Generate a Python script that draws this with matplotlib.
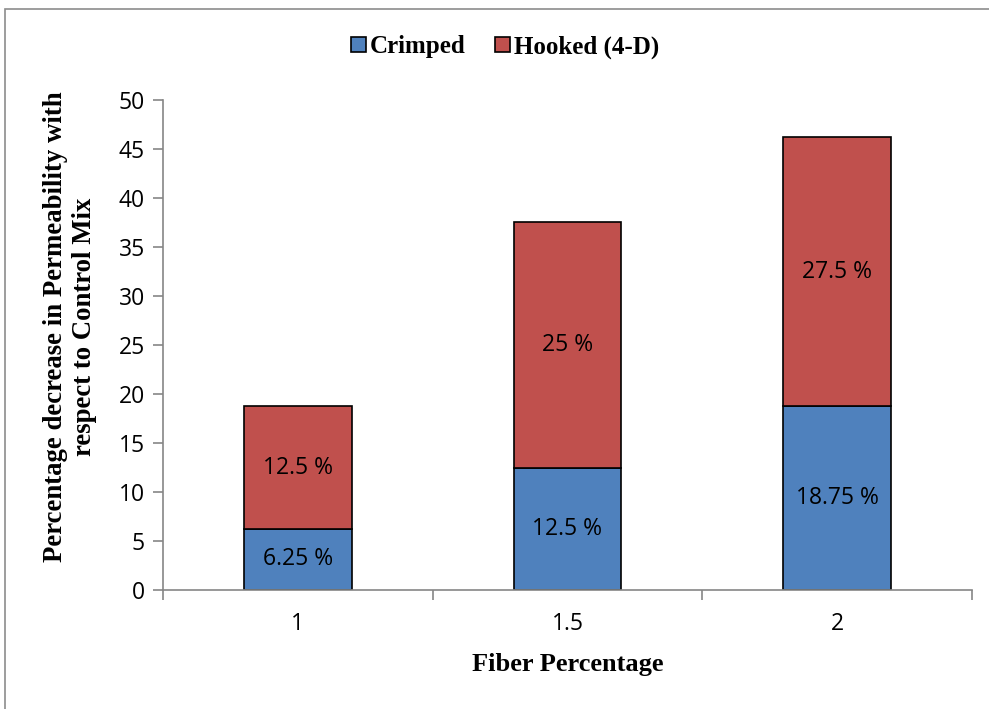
import matplotlib.pyplot as plt
from matplotlib.patches import Rectangle
import numpy as np

categories = ["1", "1.5", "2"]
crimped = [6.25, 12.5, 18.75]
hooked = [12.5, 25, 27.5]
crimped_labels = ["6.25 %", "12.5 %", "18.75 %"]
hooked_labels = ["12.5 %", "25 %", "27.5 %"]

blue = "#4F81BD"
red = "#C0504D"
axis_gray = "#868686"
serif = "Liberation Serif"
sans = "Open Sans"

fig = plt.figure(figsize=(9.89, 7.09), dpi=100)
ax = fig.add_axes([163 / 989, 1 - 590 / 709, (972 - 163) / 989, 490 / 709])

# outer chart frame, partly cut off on the right and bottom
fig.patches.append(Rectangle((5 / 989, -0.05), 1.1, 1 - 9 / 709 + 0.05,
                             transform=fig.transFigure, fill=False,
                             edgecolor="#8c8c8c", linewidth=1.2))

x = np.arange(len(categories))
w = 0.4
b1 = ax.bar(x, crimped, w, color=blue, edgecolor="black", linewidth=1.2,
            label="Crimped")
b2 = ax.bar(x, hooked, w, bottom=crimped, color=red, edgecolor="black",
            linewidth=1.2, label="Hooked (4-D)")

for i in range(len(x)):
    ax.text(x[i], crimped[i] / 2, crimped_labels[i], ha="center", va="center",
            fontsize=16.5, family=sans)
    ax.text(x[i], crimped[i] + hooked[i] / 2, hooked_labels[i], ha="center",
            va="center", fontsize=16.5, family=sans)

ax.set_xlim(-0.5, 2.5)
ax.set_ylim(0, 50)
ax.set_yticks(range(0, 51, 5))
ax.set_xticks(x)
ax.set_xticklabels(categories)
ax.set_xticks([-0.5, 0.5, 1.5, 2.5], minor=True)
ax.tick_params(axis="x", which="major", length=0, pad=16)
ax.tick_params(axis="x", which="minor", length=7, direction="out",
               color=axis_gray, width=1.2)
ax.tick_params(axis="y", length=7, direction="out", color=axis_gray,
               width=1.2, pad=6)
for lbl in ax.get_xticklabels() + ax.get_yticklabels():
    lbl.set_family(sans)
    lbl.set_fontsize(16.5)

for side in ["top", "right"]:
    ax.spines[side].set_visible(False)
for side in ["left", "bottom"]:
    ax.spines[side].set_color(axis_gray)
    ax.spines[side].set_linewidth(1.2)

ax.set_xlabel("Fiber Percentage", family=serif, fontweight="bold",
              fontsize=19, labelpad=12)
# y title placed in figure coords, slightly above the axes centre
fig.text(70 / 989, 1 - 327 / 709,
         "Percentage decrease in Permeability with\nrespect to Control Mix",
         rotation=90, ha="center", va="center", multialignment="center",
         family=serif, fontweight="bold", fontsize=19.3, linespacing=1.26)

leg = fig.legend(handles=[b1, b2], loc="center", bbox_to_anchor=(505 / 989, 1 - 47 / 709),
                 ncol=2, frameon=False, handlelength=0.6, handleheight=0.6,
                 handletextpad=0.15, columnspacing=1.2,
                 prop={"family": serif, "weight": "bold", "size": 18})

fig.savefig("out.png", dpi=100)
